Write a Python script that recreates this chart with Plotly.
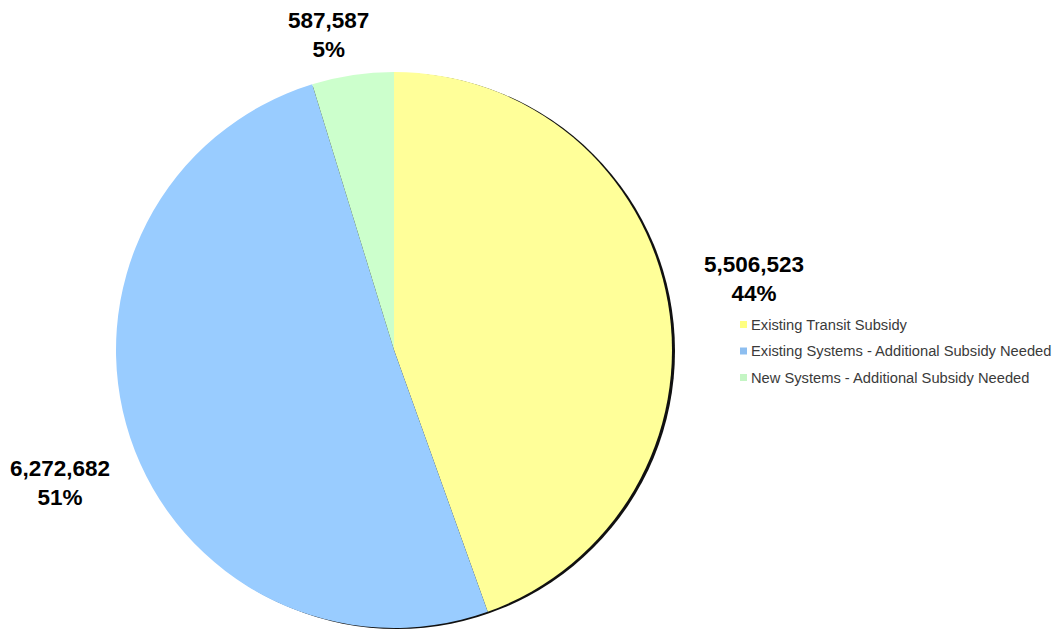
import plotly.graph_objects as go

categories = ["Existing Transit Subsidy",
              "Existing Systems - Additional Subsidy Needed",
              "New Systems - Additional Subsidy Needed"]
values = [5506523, 6272682, 587587]
pct_labels = ["44%", "51%", "5%"]
colors = ["#FFFF99", "#99CCFF", "#CCFFCC"]
legend_colors = ["#FFFF80", "#8DBEF0", "#C4F5C4"]

W, H = 1058, 629
cx, cy, r = 394, 350, 278

def px(x):
    return x / W

def py(y):
    return 1 - y / H

fig = go.Figure()
fig.add_trace(go.Pie(
    labels=categories, values=values, sort=False, direction="clockwise",
    rotation=0, marker=dict(colors=colors, line=dict(width=0)),
    textinfo="none", hoverinfo="label+value+percent", showlegend=False,
    domain=dict(x=[px(cx - r), px(cx + r)], y=[py(cy + r), py(cy - r)]),
))

# drop shadow
fig.add_shape(type="circle", xref="paper", yref="paper",
              x0=px(cx - r + 3), x1=px(cx + r + 3),
              y0=py(cy + r + 1), y1=py(cy - r + 1),
              fillcolor="#111111", line=dict(width=0), layer="below")

label_pos = [(754, 279), (60, 483), (328, 35)]
for v, p, (x, y) in zip(values, pct_labels, label_pos):
    fig.add_annotation(x=px(x), y=py(y), xref="paper", yref="paper",
                       xanchor="center", yanchor="middle",
                       text=f"<b>{v:,}<br>{p}</b>", showarrow=False,
                       font=dict(family="Liberation Sans, Arial", size=22.5, color="#000"),
                       align="center")

# manual legend
leg_y = [324.5, 351, 377.5]
for name, c, y in zip(categories, legend_colors, leg_y):
    fig.add_shape(type="rect", xref="paper", yref="paper",
                  x0=px(740), x1=px(747), y0=py(y + 3.5), y1=py(y - 3.5),
                  fillcolor=c, line=dict(width=0))
    fig.add_annotation(x=px(749), y=py(y), xref="paper", yref="paper",
                       xanchor="left", yanchor="middle", showarrow=False,
                       text=name,
                       font=dict(family="Liberation Sans, Arial", size=14.7, color="#3a3a3a"))

fig.update_layout(
    width=W, height=H, margin=dict(l=0, r=0, t=0, b=0),
    paper_bgcolor="white", plot_bgcolor="white",
    showlegend=False,
)
fig.write_html("out.html", config={"displayModeBar": False},
               post_script="document.body.style.margin='0';")
